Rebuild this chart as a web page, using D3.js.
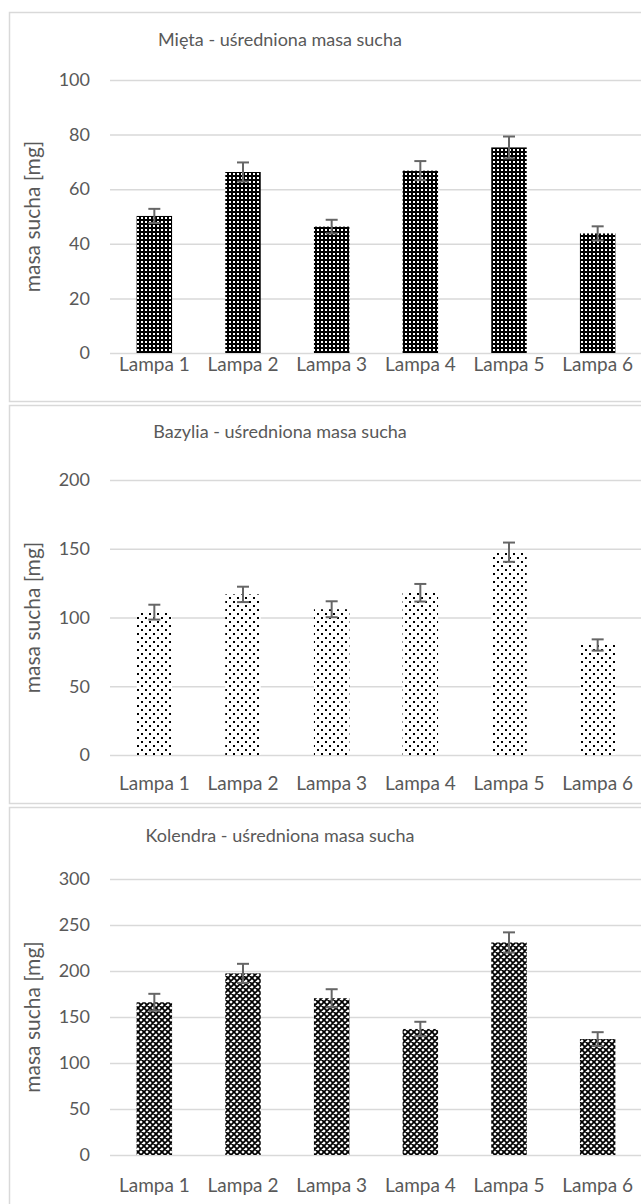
<!DOCTYPE html>
<html>
<head>
<meta charset="utf-8">
<script src="https://cdn.jsdelivr.net/npm/d3@7"></script>
<style>
  body { margin: 0; background: #fff; }
  text { font-family: Lato, 'Open Sans', sans-serif; fill: #595959; }
</style>
</head>
<body>
<script>
const categories = ['Lampa 1', 'Lampa 2', 'Lampa 3', 'Lampa 4', 'Lampa 5', 'Lampa 6']

const mietaValues = [50.2, 66.3, 46.3, 66.8, 75.3, 43.8]
const mietaErrors = [2.6, 3.5, 2.5, 3.5, 4.0, 2.6]
const mietaTicks = [0, 20, 40, 60, 80, 100]

const bazyliaValues = [103.9, 116.8, 106, 118, 147.5, 80]
const bazyliaErrors = [5.4, 5.6, 5.8, 6.4, 7.0, 4.1]
const bazyliaTicks = [0, 50, 100, 150, 200]

const kolendraValues = [166, 197.4, 170.4, 137, 231, 126]
const kolendraErrors = [9.2, 10.4, 9.8, 7.8, 11, 7.5]
const kolendraTicks = [0, 50, 100, 150, 200, 250, 300]

const W = 641
const H = 1204

const svg = d3.select('body').append('svg')
  .attr('width', W)
  .attr('height', H)

// fill patterns, one per chart
const defs = svg.append('defs')

let p = defs.append('pattern').attr('id', 'pat-mieta')
  .attr('patternUnits', 'userSpaceOnUse').attr('width', 4).attr('height', 4)
p.append('rect').attr('width', 4).attr('height', 4).attr('fill', '#000')
p.append('rect').attr('x', 1).attr('y', 1).attr('width', 2).attr('height', 2).attr('fill', '#fff')

p = defs.append('pattern').attr('id', 'pat-bazylia')
  .attr('patternUnits', 'userSpaceOnUse').attr('width', 8).attr('height', 8)
p.append('rect').attr('width', 8).attr('height', 8).attr('fill', '#fff')
p.append('rect').attr('x', 1).attr('y', 1).attr('width', 2).attr('height', 2).attr('fill', '#000')
p.append('rect').attr('x', 5).attr('y', 5).attr('width', 2).attr('height', 2).attr('fill', '#000')

p = defs.append('pattern').attr('id', 'pat-kolendra')
  .attr('patternUnits', 'userSpaceOnUse').attr('width', 6).attr('height', 6)
p.append('rect').attr('width', 6).attr('height', 6).attr('fill', '#fff')
p.append('path').attr('d', 'M0,0L6,6M6,0L0,6M-1,5L1,7M5,-1L7,1M-1,1L1,-1M5,7L7,5')
  .attr('stroke', '#000').attr('stroke-width', 1.8)

const panels = [
  { title: 'Mięta - uśredniona masa sucha', values: mietaValues, errors: mietaErrors,
    ticks: mietaTicks, pattern: 'pat-mieta', top: 12, bottom: 401, titleY: 46,
    plotTop: 80, plotBottom: 353, labelPad: 4 },
  { title: 'Bazylia - uśredniona masa sucha', values: bazyliaValues, errors: bazyliaErrors,
    ticks: bazyliaTicks, pattern: 'pat-bazylia', top: 405, bottom: 803, titleY: 438,
    plotTop: 480, plotBottom: 755, labelPad: 22 },
  { title: 'Kolendra - uśredniona masa sucha', values: kolendraValues, errors: kolendraErrors,
    ticks: kolendraTicks, pattern: 'pat-kolendra', top: 807, bottom: 1210, titleY: 842,
    plotTop: 879, plotBottom: 1155, labelPad: 24 }
]

const plotLeft = 110
const plotRight = 642

const x = d3.scaleBand()
  .domain(categories)
  .range([plotLeft, plotRight])

const barW = x.bandwidth() * 0.4

panels.forEach(cfg => {
  const g = svg.append('g')

  // chart area border
  g.append('rect')
    .attr('x', 9.5)
    .attr('y', cfg.top + 0.5)
    .attr('width', 700)
    .attr('height', cfg.bottom - cfg.top)
    .attr('fill', '#fff')
    .attr('stroke', '#d9d9d9')
    .attr('stroke-width', 1.5)

  g.append('text')
    .attr('x', 280)
    .attr('y', cfg.titleY)
    .attr('text-anchor', 'middle')
    .style('font-size', '18px')
    .text(cfg.title)

  const y = d3.scaleLinear()
    .domain([0, d3.max(cfg.ticks)])
    .range([cfg.plotBottom, cfg.plotTop])

  const yAxis = g.append('g')
    .attr('transform', 'translate(' + plotLeft + ',0)')
    .call(d3.axisLeft(y).tickValues(cfg.ticks).tickSize(-(plotRight - plotLeft)).tickPadding(20))
  yAxis.select('.domain').remove()
  yAxis.selectAll('line').attr('stroke', '#d9d9d9').attr('stroke-width', 1.5)
  yAxis.selectAll('text').style('font-size', '18px').attr('fill', '#595959')

  const xAxis = g.append('g')
    .attr('transform', 'translate(0,' + cfg.plotBottom + ')')
    .call(d3.axisBottom(x).tickSize(0).tickPadding(cfg.labelPad))
  xAxis.select('.domain').remove()
  xAxis.selectAll('text').style('font-size', '19px').attr('fill', '#595959')

  g.append('text')
    .attr('transform', 'translate(40,' + (cfg.plotTop + cfg.plotBottom) / 2 + ') rotate(-90)')
    .attr('text-anchor', 'middle')
    .style('font-size', '21px')
    .text('masa sucha [mg]')

  const data = categories.map((c, i) => ({ cat: c, v: cfg.values[i], e: cfg.errors[i] }))

  g.selectAll('rect.bar')
    .data(data)
    .enter()
    .append('rect')
    .attr('class', 'bar')
    .attr('x', d => x(d.cat) + (x.bandwidth() - barW) / 2)
    .attr('y', d => y(d.v))
    .attr('width', barW)
    .attr('height', d => y(0) - y(d.v))
    .attr('fill', 'url(#' + cfg.pattern + ')')

  const err = g.selectAll('g.err')
    .data(data)
    .enter()
    .append('g')
    .attr('class', 'err')
    .attr('stroke', '#666')
    .attr('stroke-width', 2)

  const cx = d => x(d.cat) + x.bandwidth() / 2
  err.append('line')
    .attr('x1', cx).attr('x2', cx)
    .attr('y1', d => y(d.v - d.e)).attr('y2', d => y(d.v + d.e))
  err.append('line')
    .attr('x1', d => cx(d) - 6).attr('x2', d => cx(d) + 6)
    .attr('y1', d => y(d.v + d.e)).attr('y2', d => y(d.v + d.e))
  err.append('line')
    .attr('x1', d => cx(d) - 6).attr('x2', d => cx(d) + 6)
    .attr('y1', d => y(d.v - d.e)).attr('y2', d => y(d.v - d.e))
})
</script>
</body>
</html>
